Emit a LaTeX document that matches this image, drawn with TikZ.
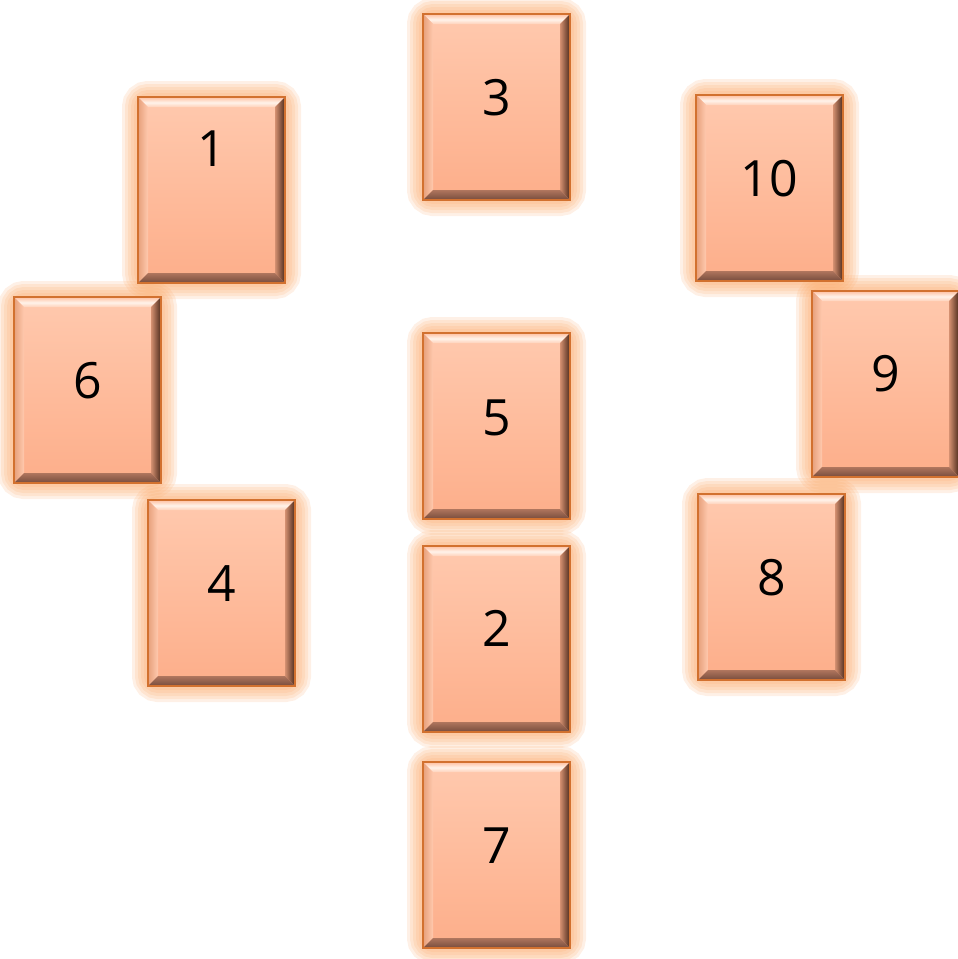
\documentclass[tikz,border=0pt]{standalone}
\usepackage{fontspec}
\setmainfont{Open Sans}
\definecolor{peachT}{HTML}{FFC9AE}
\definecolor{peachB}{HTML}{FDAE8A}
\definecolor{edgec}{HTML}{D2712F}
\definecolor{glowc}{HTML}{FBA868}
\definecolor{darkR}{HTML}{5A3524}
\definecolor{darkB}{HTML}{7C5040}
\definecolor{lightT}{HTML}{FFF3EA}
\definecolor{midL}{HTML}{E9A480}
\tikzset{
  x=1pt,y=1pt,
  glowline/.style={draw=glowc, rounded corners=10pt},
  cardbox/.style={draw=edgec, line width=1.2pt, top color=peachT, bottom color=peachB,
    minimum width=147pt, minimum height=186pt, inner sep=0pt, outer sep=0pt},
  lab/.style={font=\fontsize{50}{58}\selectfont, anchor=base, inner sep=0pt, text=black},
}
\begin{document}
\begin{tikzpicture}
\useasboundingbox (0,0) rectangle (958,-959);
% glows
\foreach \n/\x/\y/\t/\ly in {c1/138/97/1/148,c3/423/14/3/97,c10/696/95/10/178,c6/14/297/6/380,c5/423/333/5/417,c9/812/291/9/373,c4/148/500/4/583,c2/423/546/2/628,c8/698/494/8/577,c7/423/762/7/845}{
  \begin{scope}[shift={(\x,-\y)}]
    \foreach \w in {32,26,20,14,8}{
      \draw[glowline, opacity=0.17, line width=\w pt] (0,0) rectangle (147,-186);
    }
  \end{scope}
}
% cards
\foreach \n/\x/\y/\t/\ly in {c1/138/97/1/148,c3/423/14/3/97,c10/696/95/10/178,c6/14/297/6/380,c5/423/333/5/417,c9/812/291/9/373,c4/148/500/4/583,c2/423/546/2/628,c8/698/494/8/577,c7/423/762/7/845}{
  \begin{scope}[shift={(\x,-\y)}]
    \node[cardbox] (\n) at (73.5,-93) {};
    % top bevel
    \shade[top color=peachT, bottom color=peachT!80!lightT, middle color=lightT] (1,-1) -- (146,-1) -- (137,-10) -- (10,-10) -- cycle;
    % left bevel
    \shade[left color=midL, right color=peachT] (1,-1) -- (10,-10) -- (10,-176) -- (1,-185) -- cycle;
    % right bevel
    \shade[left color=peachB!75!darkR, right color=darkR] (146,-1) -- (146,-185) -- (137,-176) -- (137,-10) -- cycle;
    % bottom bevel
    \shade[top color=darkB!60!peachB, bottom color=darkB] (1,-185) -- (146,-185) -- (137,-176) -- (10,-176) -- cycle;
    \draw[edgec, line width=1.2pt] (0,0) rectangle (147,-186);
    \node[lab] (\n t) at (73.5,{-(\ly-\y)-18}) {\t};
  \end{scope}
}
\end{tikzpicture}
\end{document}
